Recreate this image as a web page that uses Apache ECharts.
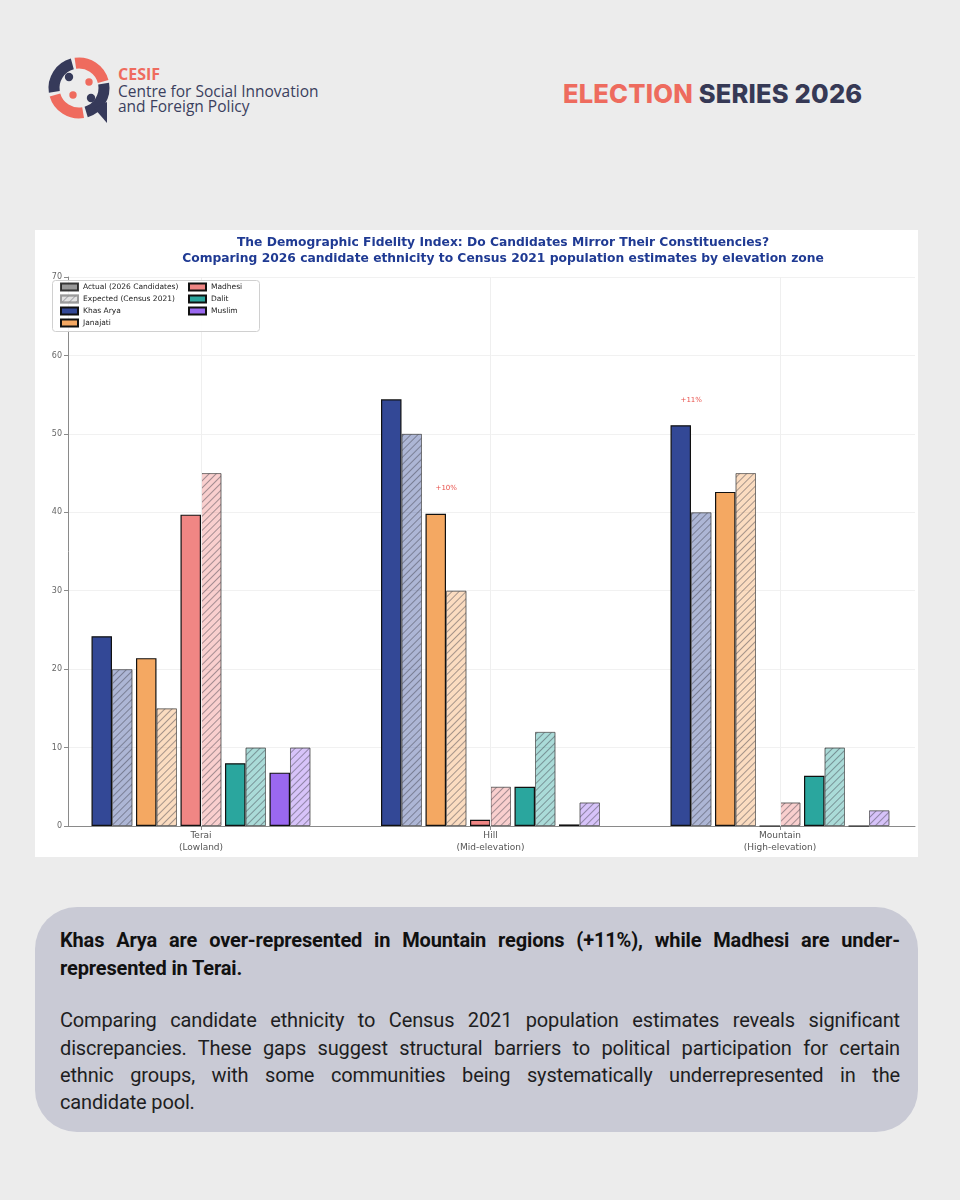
<!DOCTYPE html>
<html>
<head>
<meta charset="utf-8">
<script src="https://cdn.jsdelivr.net/npm/echarts@6/dist/echarts.min.js"></script>
<style>
  html, body { margin: 0; padding: 0; }
  body { width: 960px; height: 1200px; position: relative; background: #ececec; overflow: hidden; font-family: 'Open Sans', sans-serif; }
  #logo { position: absolute; left: 0; top: 0; }
  .brand { position: absolute; left: 118px; color: #3b3f5e; font-family: 'Open Sans', sans-serif; font-size: 15.5px; line-height: 16px; white-space: nowrap; }
  #series { position: absolute; left: 563px; top: 78px; font-family: Inter, sans-serif; font-weight: 800; font-size: 25.5px; letter-spacing: 0.2px; white-space: nowrap; }
  #chart { position: absolute; left: 35px; top: 230px; width: 883px; height: 627px; background: #ffffff; }
  #note { position: absolute; left: 35px; top: 907px; width: 883px; height: 225px; border-radius: 42px; background: #c9cad5; }
  .ln { position: absolute; left: 60px; width: 840px; white-space: nowrap; font-family: Roboto, sans-serif; font-size: 20px; letter-spacing: -0.15px; line-height: 28px; color: #1e1e22; text-align: justify; text-align-last: justify; }
  .b { font-weight: 700; color: #111; }
  .last { text-align-last: left; }
</style>
</head>
<body>
<svg id="logo" width="130" height="140" viewBox="0 0 130 140">
  <g transform="translate(79,88)">
    <circle r="25" fill="none" stroke="#363a5a" stroke-width="11" stroke-dasharray="36 121" stroke-dashoffset="0" transform="rotate(-10)"/>
    <circle r="25" fill="none" stroke="#ef6b5e" stroke-width="11" stroke-dasharray="36 121" stroke-dashoffset="-39.27" transform="rotate(-10)"/>
    <circle r="25" fill="none" stroke="#363a5a" stroke-width="11" stroke-dasharray="36 121" stroke-dashoffset="-78.54" transform="rotate(-10)"/>
    <circle r="25" fill="none" stroke="#ef6b5e" stroke-width="11" stroke-dasharray="36 121" stroke-dashoffset="-117.8" transform="rotate(-10)"/>
    <path d="M15 20 L28 35 L28 14 Z" fill="#363a5a"/>
    <circle cx="-10" cy="-11" r="4.2" fill="#363a5a"/>
    <circle cx="10" cy="-6" r="3.7" fill="#ef6b5e"/>
    <circle cx="-6" cy="7" r="3.7" fill="#ef6b5e"/>
    <circle cx="12" cy="10" r="4.2" fill="#363a5a"/>
  </g>
</svg>
<div class="brand" style="top:66px; color:#ef6b5e; font-weight:700; font-size:16px;">CESIF</div>
<div class="brand" style="top:83px;">Centre for Social Innovation</div>
<div class="brand" style="top:98px;">and Foreign Policy</div>
<div id="series"><span style="color:#ee6b5e">ELECTION</span> <span style="color:#363955">SERIES 2026</span></div>

<div id="chart"></div>

<div id="note"></div>
<div class="ln b" style="top:926px;">Khas Arya are over-represented in Mountain regions (+11%), while Madhesi are under-</div>
<div class="ln b last" style="top:954px;">represented in Terai.</div>
<div class="ln" style="top:1006px;">Comparing candidate ethnicity to Census 2021 population estimates reveals significant</div>
<div class="ln" style="top:1034px;">discrepancies. These gaps suggest structural barriers to political participation for certain</div>
<div class="ln" style="top:1061px;">ethnic groups, with some communities being systematically underrepresented in the</div>
<div class="ln last" style="top:1088px;">candidate pool.</div>

<script>
// ---- data ----
const categories = ['Terai\n(Lowland)', 'Hill\n(Mid-elevation)', 'Mountain\n(High-elevation)'];
const groups = ['Khas Arya', 'Janajati', 'Madhesi', 'Dalit', 'Muslim'];
const khasAryaActual   = [24.2, 54.4, 51.1];
const khasAryaExpected = [20, 50, 40];
const janajatiActual   = [21.4, 39.8, 42.6];
const janajatiExpected = [15, 30, 45];
const madhesiActual    = [39.7, 0.8, 0];
const madhesiExpected  = [45, 5, 3];
const dalitActual      = [8.0, 5.0, 6.4];
const dalitExpected    = [10, 12, 10];
const muslimActual     = [6.8, 0.2, 0];
const muslimExpected   = [10, 3, 2];
const yMin = 0, yMax = 70, yStep = 10;
const titleLines = ['The Demographic Fidelity Index: Do Candidates Mirror Their Constituencies?',
                    'Comparing 2026 candidate ethnicity to Census 2021 population estimates by elevation zone'];
const legendActual = 'Actual (2026 Candidates)';
const legendExpected = 'Expected (Census 2021)';

// ---- styles ----
const palette = {
  'Khas Arya': [51, 72, 150],
  'Janajati': [244, 168, 98],
  'Madhesi': [240, 134, 132],
  'Dalit': [42, 166, 158],
  'Muslim': [154, 104, 240]
};
const actualSets = [khasAryaActual, janajatiActual, madhesiActual, dalitActual, muslimActual];
const expectedSets = [khasAryaExpected, janajatiExpected, madhesiExpected, dalitExpected, muslimExpected];
const rgb = (c, a) => a === undefined ? `rgb(${c[0]},${c[1]},${c[2]})` : `rgba(${c[0]},${c[1]},${c[2]},${a})`;
const hatch = { symbol: 'rect', symbolSize: 1, dashArrayX: [1, 0], dashArrayY: [1, 4], rotation: -Math.PI / 4, color: 'rgba(60,60,70,0.45)' };
const BW = 20.5, SP = 3.5;

const series = [];
groups.forEach((g, i) => {
  const c = palette[g];
  const act = actualSets[i], exp = expectedSets[i];
  series.push({
    name: g, type: 'bar', barWidth: BW, barGap: '0%',
    itemStyle: { color: rgb(c), borderColor: '#111', borderWidth: 1.2 },
    data: act.map((v, j) => {
      const d = Math.round(v - exp[j]);
      const item = { value: [j, v] };
      if (d >= 10) {
        item.label = { show: true, position: 'top', formatter: '+' + d + '%', offset: [10.5, -17],
                       color: '#e8504a', fontSize: 7, fontFamily: 'DejaVu Sans' };
      }
      return item;
    })
  });
  series.push({
    name: g + ' (Expected)', type: 'bar', barWidth: BW, barGap: '0%',
    itemStyle: { color: rgb(c, 0.4), borderColor: 'rgba(70,70,70,0.45)', borderWidth: 1, decal: hatch },
    data: exp.map((v, j) => [j, v])
  });
  if (i < groups.length - 1) {
    series.push({ name: 'spacer' + i, type: 'bar', barWidth: SP, barGap: '0%', silent: true, data: [] });
  }
});
series.push({
  name: legendActual, type: 'scatter', data: [], z: 0,
  itemStyle: { color: '#808080', borderColor: '#111', borderWidth: 1 },
  markLine: {
    silent: true, symbol: 'none', label: { show: false }, animation: false,
    lineStyle: { color: '#efefef', type: 'solid', width: 1 },
    data: categories.map((_, j) => ({ xAxis: j }))
  }
});
series.push({ name: legendExpected, type: 'scatter', data: [], itemStyle: { color: '#dcdcdc', borderColor: '#999', borderWidth: 1, decal: hatch } });

const legendText = { fontSize: 7.5, color: '#222', fontFamily: 'DejaVu Sans', lineHeight: 10 };
const chart = echarts.init(document.getElementById('chart'), null, { renderer: 'canvas' });
chart.setOption({
  animation: false,
  backgroundColor: '#ffffff',
  title: {
    text: titleLines.join('\n'), left: 463, top: 0, textAlign: 'center',
    textStyle: { fontFamily: 'DejaVu Sans', fontWeight: 'bold', fontSize: 12.3, lineHeight: 16, color: '#1f3a93' }
  },
  graphic: [{
    type: 'rect', left: 17, top: 50, shape: { width: 207, height: 51, r: 3 },
    style: { fill: 'rgba(255,255,255,0.9)', stroke: '#d0d0d0', lineWidth: 1 }, z: 50
  }],
  legend: [
    { orient: 'vertical', left: 25, top: 52, itemWidth: 17, itemHeight: 7, itemGap: 2, selectedMode: false, padding: 0, z: 60,
      textStyle: legendText,
      data: [
        { name: legendActual, icon: 'rect' },
        { name: legendExpected, icon: 'rect' },
        { name: 'Khas Arya', icon: 'rect' },
        { name: 'Janajati', icon: 'rect' }
      ] },
    { orient: 'vertical', left: 153, top: 52, itemWidth: 17, itemHeight: 7, itemGap: 2, selectedMode: false, padding: 0, z: 60,
      textStyle: legendText,
      data: [ { name: 'Madhesi', icon: 'rect' }, { name: 'Dalit', icon: 'rect' }, { name: 'Muslim', icon: 'rect' } ] }
  ],
  grid: { left: 33, right: 3, top: 47, bottom: 31, containLabel: false },
  xAxis: {
    type: 'value', min: -0.4594, max: 2.4663,
    axisLine: { show: true, onZero: true, lineStyle: { color: '#8a8a8a', width: 1 } },
    axisTick: { show: true, customValues: [0, 1, 2], length: 4, lineStyle: { color: '#8a8a8a' } },
    axisLabel: { customValues: [0, 1, 2], formatter: v => categories[Math.round(v)] || '', color: '#555', fontSize: 9, lineHeight: 12, margin: 4, fontFamily: 'DejaVu Sans' },
    splitLine: { show: false }
  },
  yAxis: {
    type: 'value', min: yMin, max: yMax, interval: yStep,
    axisLine: { show: true, onZero: false, lineStyle: { color: '#8a8a8a', width: 1 } },
    axisTick: { show: true, length: 4, lineStyle: { color: '#8a8a8a' } },
    axisLabel: { color: '#666', fontSize: 8, margin: 6, fontFamily: 'DejaVu Sans' },
    splitLine: { show: true, lineStyle: { color: '#f1f1f1', width: 1 } }
  },
  series: series
});
</script>
</body>
</html>
